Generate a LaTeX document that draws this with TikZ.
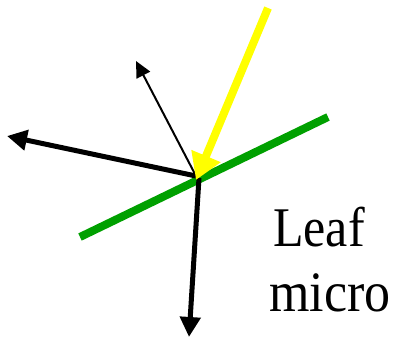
\documentclass[tikz,border=0pt]{standalone}
\usepackage{fontspec}
\setmainfont{Liberation Serif}
\usetikzlibrary{arrows.meta}
\definecolor{leafgreen}{RGB}{0,160,0}
\definecolor{lightyellow}{RGB}{255,255,0}
\tikzset{
  leafline/.style={draw=leafgreen, line width=8pt},
  incident/.style={draw=lightyellow, line width=8pt, -{Triangle[length=26pt,width=30pt]}},
  thickray/.style={draw=black, line width=5pt, -{Triangle[length=20pt,width=20pt]}},
  thinray/.style={draw=black, line width=2pt, -{Triangle[length=16pt,width=15pt]}},
  labeltext/.style={inner sep=0pt, anchor=base west}
}
\begin{document}
\begin{tikzpicture}[x=1pt,y=-1pt]
\useasboundingbox (0,0) rectangle (394,338);
\coordinate (leafA) at (80,237);
\coordinate (leafB) at (328,117);
\coordinate (src) at (268,8);
\coordinate (hit) at (196,180);
\coordinate (O) at (196,176);
\coordinate (Odown) at (199,178);
\coordinate (leftTip) at (7,136);
\coordinate (thinTip) at (136,61);
\coordinate (downTip) at (189,337);
\draw[leafline] (leafA) -- (leafB);
\draw[thinray] (O) -- (thinTip);
\draw[thickray] (O) -- (leftTip);
\draw[thickray] (Odown) -- (downTip);
\draw[incident] (src) -- (hit);
\node[labeltext, font=\fontsize{50}{50}\selectfont] (leaf) at (273,246.5) {\scalebox{1}[1.12]{Leaf}};
\node[labeltext, font=\fontsize{52}{52}\selectfont] (micro) at (269,311) {\scalebox{1}[1.1]{micro}};
\end{tikzpicture}
\end{document}
